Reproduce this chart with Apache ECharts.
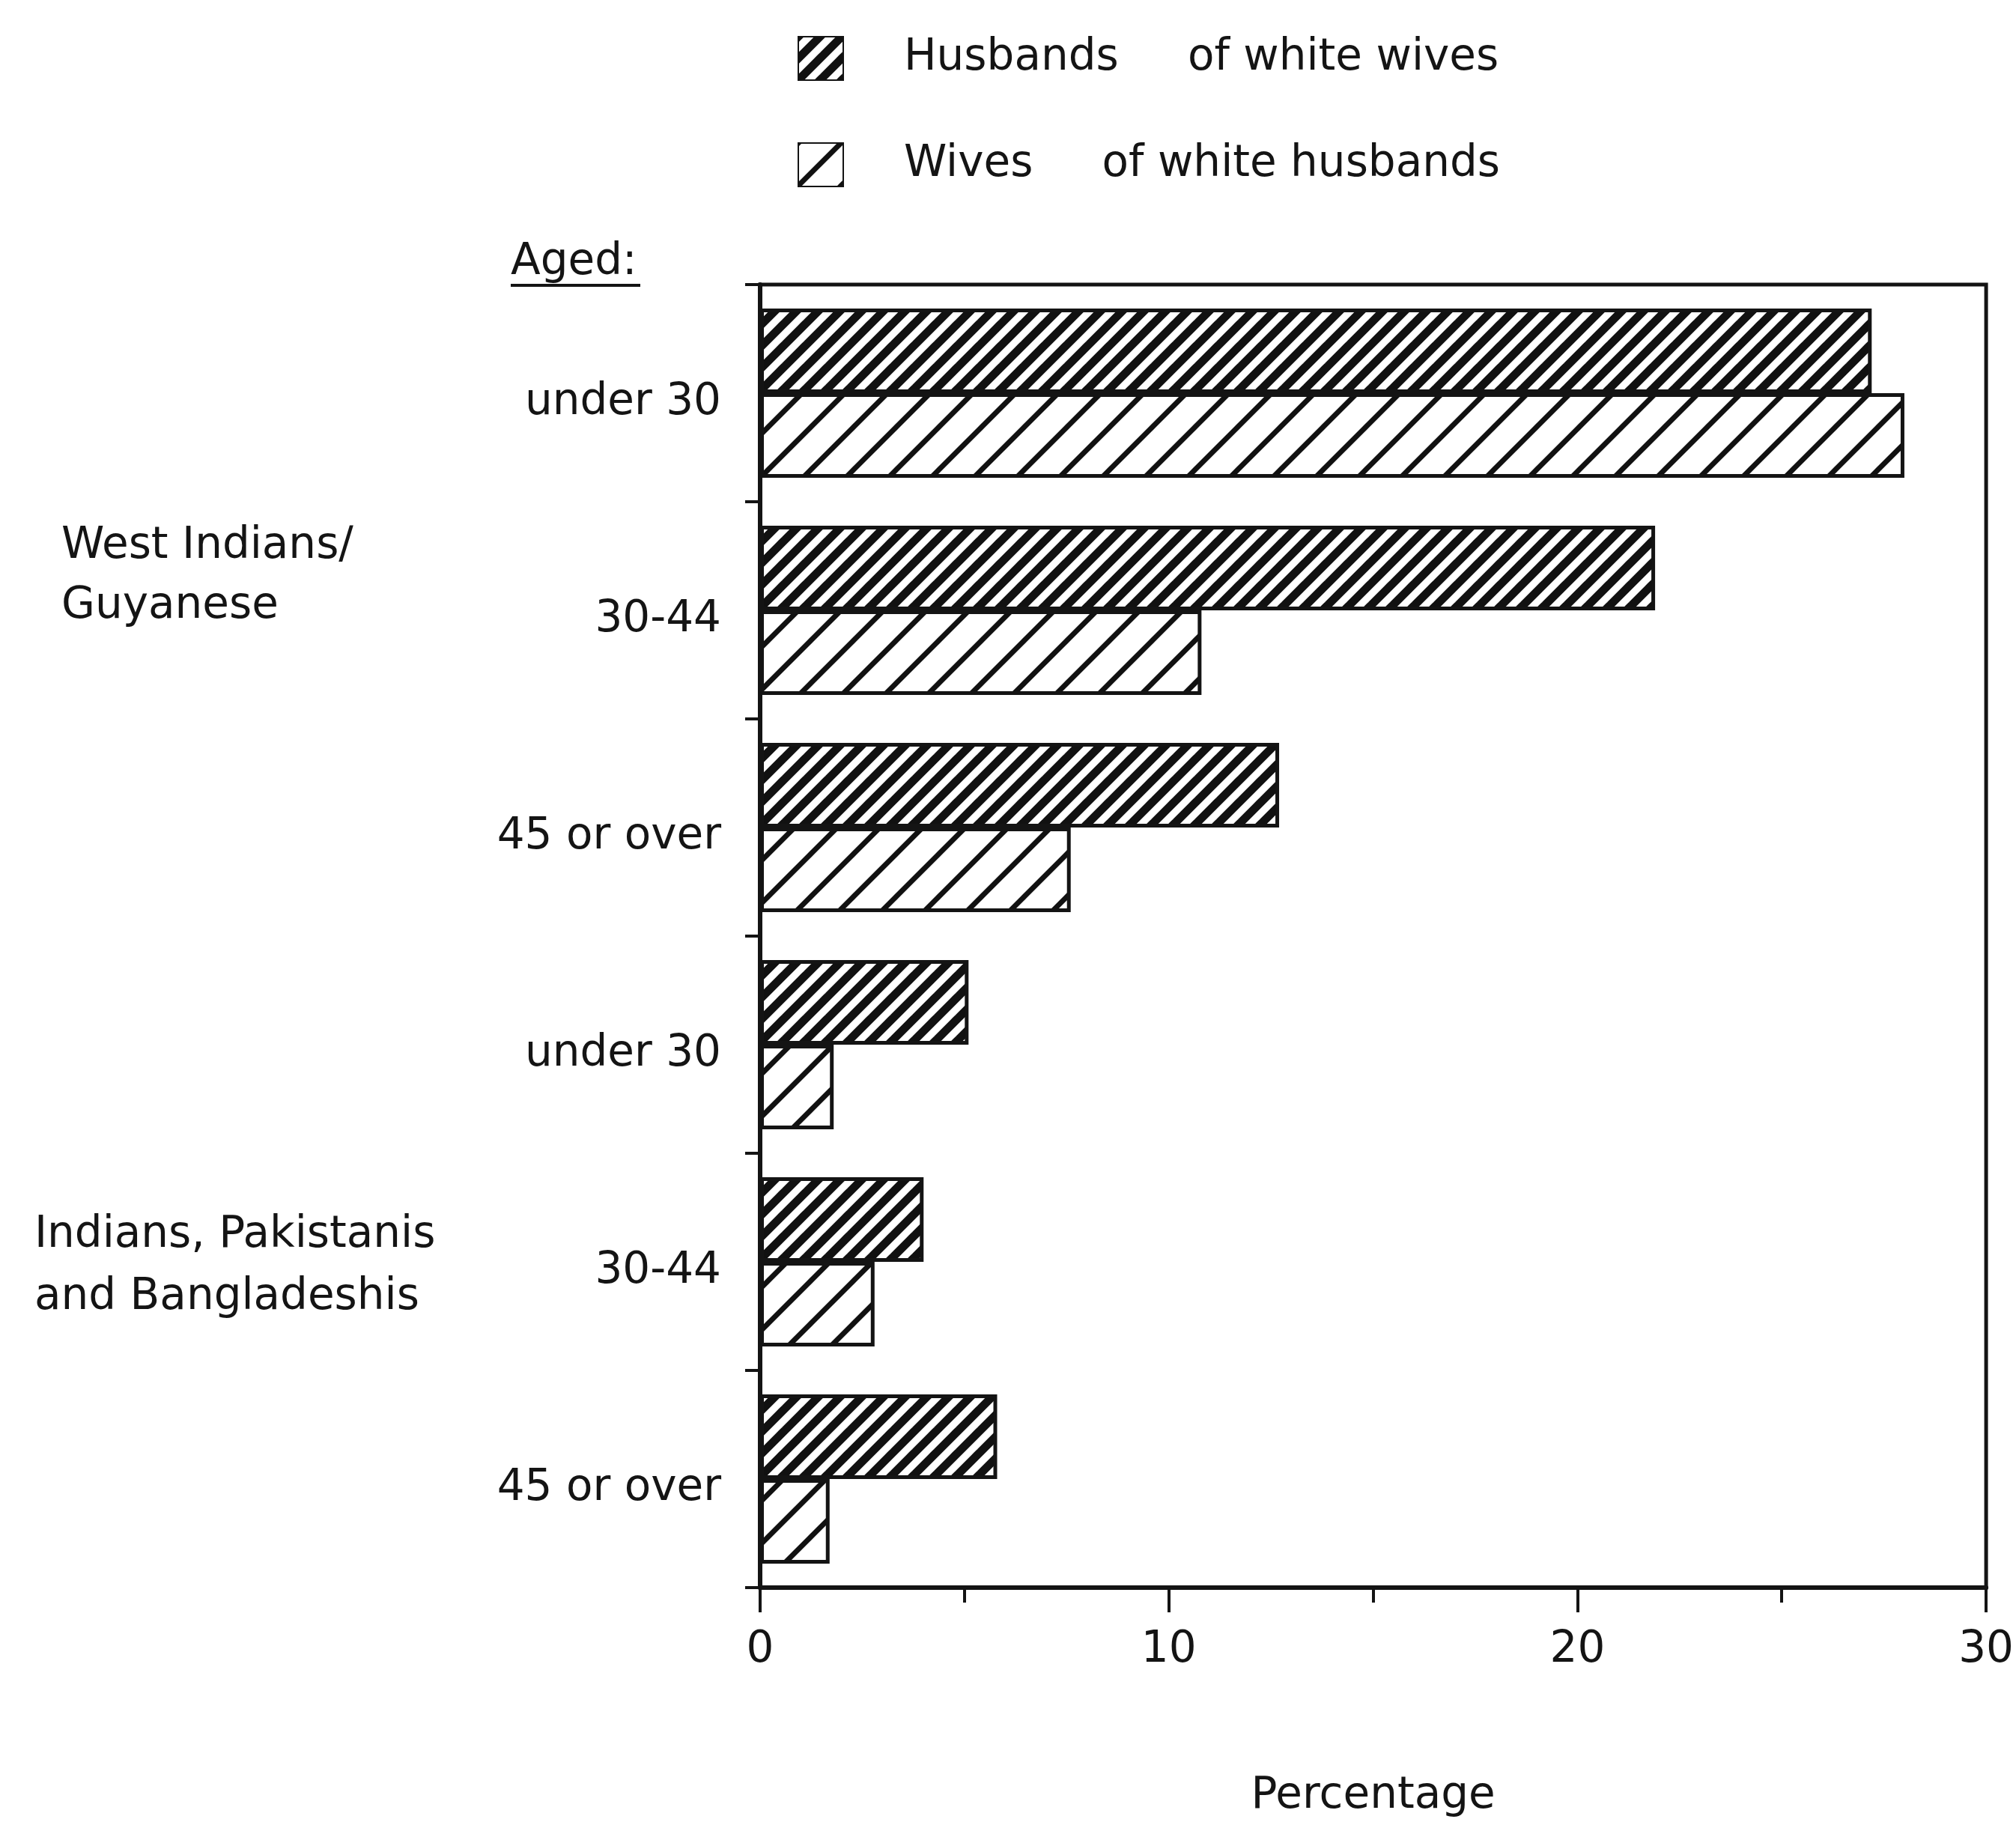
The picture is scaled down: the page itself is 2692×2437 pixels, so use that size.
<!DOCTYPE html>
<html>
<head>
<meta charset="utf-8">
<script src="https://cdn.jsdelivr.net/npm/echarts@6/dist/echarts.min.js"></script>
<style>
html,body{margin:0;padding:0;background:#fff;}
#chart{width:2692px;height:2437px;}
</style>
</head>
<body>
<div id="chart"></div>
<script>
// ---- data ----
const categories = ['under 30', '30-44', '45 or over', 'under 30', '30-44', '45 or over'];
const groupLabels = ['West Indians/\nGuyanese', 'Indians, Pakistanis\nand Bangladeshis'];
const seriesNames = ['Husbands     of white wives', 'Wives     of white husbands'];
const husbandsValues = [27.2, 21.9, 12.7, 5.1, 4.0, 5.8];
const wivesValues = [28.0, 10.8, 7.6, 1.8, 2.8, 1.7];
const xTicks = [0, 10, 20, 30];
const axisTitle = 'Percentage';
const agedLabel = 'Aged:';

// ---- hatch patterns ----
function hatch(period, lineWidth) {
  const c = document.createElement('canvas');
  c.width = period; c.height = period;
  const g = c.getContext('2d');
  g.fillStyle = '#fff';
  g.fillRect(0, 0, period, period);
  g.strokeStyle = '#111';
  g.lineWidth = lineWidth;
  g.lineCap = 'square';
  for (let k = -1; k <= 1; k++) {
    g.beginPath();
    g.moveTo(k * period, period);
    g.lineTo(k * period + period, 0);
    g.stroke();
  }
  return { image: c, repeat: 'repeat' };
}
const densePattern = hatch(29, 11);
const sparsePattern = hatch(57, 7);

const FONT = 'DejaVu Sans';
const INK = '#141414';

const chart = echarts.init(document.getElementById('chart'), null, { renderer: 'canvas' });
chart.setOption({
  backgroundColor: '#fff',
  animation: false,
  textStyle: { fontFamily: FONT, color: INK },
  grid: {
    left: 1015, right: 30, top: 380, bottom: 317,
    show: true, borderColor: INK, borderWidth: 5, backgroundColor: 'transparent'
  },
  legend: {
    orient: 'vertical',
    left: 1060, top: 43,
    icon: 'rect',
    itemWidth: 60, itemHeight: 58,
    itemGap: 82,
    textStyle: { fontFamily: FONT, fontSize: 58, color: INK, padding: [0, 0, 0, 76] },
    data: seriesNames
  },
  xAxis: {
    type: 'value',
    min: 0, max: 30, interval: 10,
    name: axisTitle,
    nameLocation: 'middle',
    nameGap: 250,
    nameTextStyle: { fontFamily: FONT, fontSize: 58, color: INK },
    axisLine: { show: true, lineStyle: { color: INK, width: 6 } },
    axisTick: { show: true, length: 33, lineStyle: { color: INK, width: 4 } },
    minorTick: { show: true, splitNumber: 2, length: 20, lineStyle: { color: INK, width: 4 } },
    splitLine: { show: false },
    axisLabel: {
      fontFamily: FONT, fontSize: 58, color: INK, margin: 55,
      formatter: v => (xTicks.indexOf(v) >= 0 ? String(v) : '')
    }
  },
  yAxis: {
    type: 'category',
    inverse: true,
    data: categories,
    axisLine: { show: true, lineStyle: { color: INK, width: 6 } },
    axisTick: { show: true, length: 20, lineStyle: { color: INK, width: 4 } },
    axisLabel: { fontFamily: FONT, fontSize: 58, color: INK, margin: 52, verticalAlign: 'top', lineHeight: 26 }
  },
  series: [
    {
      name: seriesNames[0], type: 'bar', data: husbandsValues,
      barGap: '0%', barCategoryGap: '22%',
      itemStyle: { color: densePattern, borderColor: INK, borderWidth: 5 }
    },
    {
      name: seriesNames[1], type: 'bar', data: wivesValues,
      barGap: '0%', barCategoryGap: '22%',
      itemStyle: { color: sparsePattern, borderColor: INK, borderWidth: 5 }
    }
  ],
  graphic: [
    { type: 'text', left: 682, top: 322, style: { text: agedLabel, font: '58px "DejaVu Sans"', fill: INK } },
    { type: 'line', shape: { x1: 682, y1: 381, x2: 855, y2: 381 }, style: { stroke: INK, lineWidth: 4 } },
    { type: 'text', left: 82, top: 690, style: { text: groupLabels[0], font: '58px "DejaVu Sans"', fill: INK, lineHeight: 80 } },
    { type: 'text', left: 46, top: 1608, style: { text: groupLabels[1], font: '58px "DejaVu Sans"', fill: INK, lineHeight: 83 } }
  ]
});
</script>
</body>
</html>
